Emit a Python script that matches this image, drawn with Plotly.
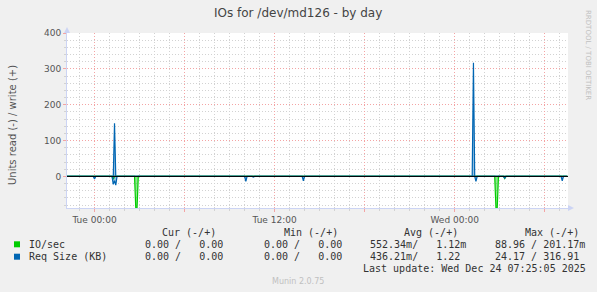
import plotly.graph_objects as go

# ---------------- data ----------------
x_start = "2025-12-22 22:10"
x_end = "2025-12-24 07:33"

# Req Size (KB) write (+)
t_req_w = ["2025-12-22 22:10", "2025-12-23 01:15", "2025-12-23 01:20", "2025-12-23 01:25",
           "2025-12-24 01:10", "2025-12-24 01:15", "2025-12-24 01:20", "2025-12-24 07:30"]
v_req_w = [0, 0, 148, 0, 0, 317, 0, 0]

# Req Size (KB) read (-)
t_req_r = ["2025-12-22 22:10", "2025-12-22 23:55", "2025-12-23 00:00", "2025-12-23 00:05",
           "2025-12-23 01:10", "2025-12-23 01:15", "2025-12-23 01:20", "2025-12-23 01:25", "2025-12-23 01:30",
           "2025-12-23 03:20", "2025-12-23 03:25", "2025-12-23 03:30",
           "2025-12-23 10:00", "2025-12-23 10:05", "2025-12-23 10:10",
           "2025-12-23 10:30", "2025-12-23 10:35", "2025-12-23 10:40",
           "2025-12-23 13:50", "2025-12-23 13:55", "2025-12-23 14:00",
           "2025-12-24 01:20", "2025-12-24 01:25", "2025-12-24 01:30",
           "2025-12-24 03:15", "2025-12-24 03:20", "2025-12-24 03:25",
           "2025-12-24 07:05", "2025-12-24 07:10", "2025-12-24 07:15", "2025-12-24 07:30"]
v_req_r = [0, 0, -7, 0,
           0, -22, -12, -24, 0,
           0, -2, 0,
           0, -14, 0,
           0, -2, 0,
           0, -12, 0,
           0, -14, 0,
           0, -5, 0,
           0, -12, 0, 0]

# IO/sec read (-)
t_io_r = ["2025-12-22 22:10", "2025-12-23 01:10", "2025-12-23 01:15", "2025-12-23 01:20",
          "2025-12-23 02:40", "2025-12-23 02:45", "2025-12-23 02:50", "2025-12-23 02:55",
          "2025-12-24 02:40", "2025-12-24 02:45", "2025-12-24 02:50", "2025-12-24 02:55",
          "2025-12-24 03:15", "2025-12-24 03:20", "2025-12-24 03:25", "2025-12-24 07:30"]
v_io_r = [0, 0, -8, 0,
          0, -89, -89, 0,
          0, -89, -89, 0,
          0, -6, 0, 0]

# IO/sec write (+)
t_io_w = ["2025-12-22 22:10", "2025-12-24 07:30"]
v_io_w = [0, 0]

y_ticks = [0, 100, 200, 300, 400]
x_ticks = ["2025-12-23 00:00", "2025-12-23 06:00", "2025-12-23 12:00",
           "2025-12-23 18:00", "2025-12-24 00:00", "2025-12-24 06:00"]
x_ticktext = ["Tue 00:00", "", "Tue 12:00", "", "Wed 00:00", ""]

legend_names = ["IO/sec", "Req Size (KB)"]
legend_colors = ["#00cc00", "#0066b3"]
col_headers = ["Cur (-/+)", "Min (-/+)", "Avg (-/+)", "Max (-/+)"]
row_values = [
    ["0.00 /   0.00", "0.00 /   0.00", "552.34m/   1.12m", "88.96 / 201.17m"],
    ["0.00 /   0.00", "0.00 /   0.00", "436.21m/   1.22", "24.17 / 316.91"],
]
last_update = "Last update: Wed Dec 24 07:25:05 2025"

# ---------------- layout geometry ----------------
W, H = 597, 292
L, R, T, B = 67, 568, 33, 208


def px(x):
    return (x - L) / (R - L)


def py(y):
    return (B - y) / (B - T)


fig = go.Figure()

GREEN, BLUE = legend_colors
fig.add_trace(go.Scatter(x=t_io_r, y=v_io_r, mode="lines", line=dict(color=GREEN, width=1.2),
                         fill="tozeroy", fillcolor="rgba(0,204,0,0.45)", showlegend=False))
fig.add_trace(go.Scatter(x=t_io_w, y=v_io_w, mode="lines", line=dict(color=GREEN, width=1.2),
                         showlegend=False))
fig.add_trace(go.Scatter(x=t_req_r, y=v_req_r, mode="lines", line=dict(color=BLUE, width=1.2),
                         fill="tozeroy", fillcolor="rgba(0,102,179,0.4)", showlegend=False))
fig.add_trace(go.Scatter(x=t_req_w, y=v_req_w, mode="lines", line=dict(color=BLUE, width=1.2),
                         fill="tozeroy", fillcolor="rgba(0,102,179,0.4)", showlegend=False))

DOT = "1px,2px"
MAJ = "#f4a4a4"
MIN = "#d2d2d2"
fig.update_layout(
    width=W, height=H,
    margin=dict(l=L, r=W - R, t=T, b=H - B, pad=0),
    paper_bgcolor="#f0f0f0", plot_bgcolor="#ffffff",
    font=dict(family="DejaVu Sans", size=9, color="#555555"),
    showlegend=False,
)

fig.update_xaxes(
    type="date", range=[x_start, x_end],
    tickmode="array", tickvals=x_ticks, ticktext=x_ticktext,
    showgrid=True, gridcolor=MAJ, griddash=DOT, gridwidth=1,
    ticks="outside", ticklen=3, tickcolor=MAJ,
    showline=True, linecolor="#ccd4f4", linewidth=1,
    zeroline=False,
    tickfont=dict(size=9, color="#555555"),
    minor=dict(dtick=3600000, tick0="2025-12-23 00:00", showgrid=True,
               gridcolor=MIN, griddash=DOT, ticks="outside", ticklen=2, tickcolor=MIN),
)
fig.update_yaxes(
    range=[-88, 400],
    tickmode="array", tickvals=y_ticks,
    showgrid=True, gridcolor=MAJ, griddash=DOT, gridwidth=1,
    ticks="outside", ticklen=3, tickcolor=MAJ,
    showline=True, linecolor="#ccd4f4", linewidth=1,
    zeroline=False,
    tickfont=dict(size=9, color="#555555"),
    minor=dict(dtick=20, tick0=0, showgrid=True,
               gridcolor=MIN, griddash=DOT, ticks="outside", ticklen=2, tickcolor=MIN),
)

ann = []
# title
ann.append(dict(text="IOs for /dev/md126 - by day", x=px(298), y=py(13), xref="paper", yref="paper",
                showarrow=False, xanchor="center", yanchor="middle",
                font=dict(family="DejaVu Sans", size=12, color="#444444")))
# y title
ann.append(dict(text="Units read (-) / write (+)", x=px(12), y=py(125), xref="paper", yref="paper",
                showarrow=False, xanchor="center", yanchor="middle", textangle=-90,
                font=dict(family="DejaVu Sans", size=10, color="#555555")))
# rrdtool text
ann.append(dict(text="RRDTOOL / TOBI OETIKER", x=px(588), y=py(55), xref="paper", yref="paper",
                showarrow=False, xanchor="center", yanchor="middle", textangle=90,
                font=dict(family="DejaVu Sans", size=7, color="#c0c0c0")))
# munin version
ann.append(dict(text="Munin 2.0.75", x=px(298), y=py(281), xref="paper", yref="paper",
                showarrow=False, xanchor="center", yanchor="middle",
                font=dict(family="DejaVu Sans", size=8, color="#c0c0c0")))

mono = dict(family="DejaVu Sans Mono", size=10, color="#333333")
header_x = [159.5, 282, 402, 523]
for hx, h in zip(header_x, col_headers):
    ann.append(dict(text=h, x=px(hx), y=py(232.7), xref="paper", yref="paper", showarrow=False,
                    xanchor="left", yanchor="middle", font=mono))
value_x = [143.3, 262, 368.3, 492.7]
row_y = [244.3, 256.7]
shapes = []
for name, color, vals, ry in zip(legend_names, legend_colors, row_values, row_y):
    ann.append(dict(text=name, x=px(26.5), y=py(ry), xref="paper", yref="paper", showarrow=False,
                    xanchor="left", yanchor="middle", font=mono))
    for vx, v in zip(value_x, vals):
        ann.append(dict(text=v.replace(" ", "&nbsp;"), x=px(vx), y=py(ry), xref="paper", yref="paper",
                        showarrow=False, xanchor="left", yanchor="middle", font=mono))
    shapes.append(dict(type="rect", xref="paper", yref="paper", x0=px(14), x1=px(20),
                       y0=py(ry + 3), y1=py(ry - 3), fillcolor=color, line=dict(width=0)))
ann.append(dict(text=last_update, x=px(361), y=py(268.7), xref="paper", yref="paper", showarrow=False,
                xanchor="left", yanchor="middle", font=mono))

# black zero rule drawn above the data
shapes.append(dict(type="line", xref="paper", yref="y", x0=0, x1=1, y0=0, y1=0,
                   line=dict(color="#000000", width=1), layer="above"))

# axis arrows
arrow_col = "#ccd4f4"
shapes.append(dict(type="path", xref="paper", yref="paper",
                   path=f"M {px(64)} {py(33)} L {px(70)} {py(33)} L {px(67)} {py(27)} Z",
                   fillcolor=arrow_col, line=dict(width=0)))
shapes.append(dict(type="path", xref="paper", yref="paper",
                   path=f"M {px(568)} {py(205)} L {px(568)} {py(211)} L {px(574)} {py(208)} Z",
                   fillcolor=arrow_col, line=dict(width=0)))

fig.update_layout(annotations=ann, shapes=shapes)

fig.write_html("out.html")
